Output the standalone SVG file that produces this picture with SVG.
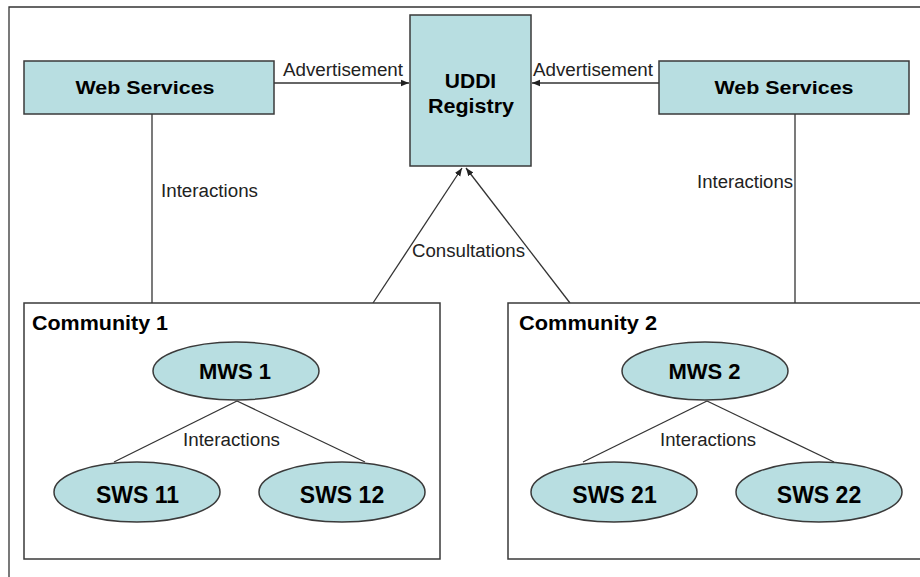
<svg xmlns="http://www.w3.org/2000/svg" width="920" height="577" viewBox="0 0 920 577">
<style>
.box{fill:#b8dee1;stroke:#3a3a3a;stroke-width:1.5}
.cbox{fill:#fff;stroke:#3a3a3a;stroke-width:1.5}
.ln{fill:none;stroke:#333;stroke-width:1.3}
.b{font-family:"Liberation Sans",Arial,sans-serif;font-weight:bold;fill:#000;text-anchor:middle}
.r{font-family:"Liberation Sans",Arial,sans-serif;fill:#222;font-size:18px}
</style>
<defs>
<marker id="ah" viewBox="0 0 10 10" refX="10" refY="5" markerWidth="8" markerHeight="8" markerUnits="userSpaceOnUse" orient="auto">
<path d="M0,1 L10,5 L0,9 z" fill="#222"/>
</marker>
</defs>
<rect width="920" height="577" fill="#fff"/>
<path class="ln" d="M9,577 V7 H920" stroke-width="1.5"/>

<g id="connectors">
<line class="ln" x1="274" y1="83" x2="409" y2="83" marker-end="url(#ah)"/>
<line class="ln" x1="659" y1="83" x2="532" y2="83" marker-end="url(#ah)"/>
<line class="ln" x1="152" y1="114" x2="152" y2="303"/>
<line class="ln" x1="795" y1="114" x2="795" y2="303"/>
<line class="ln" x1="373" y1="303" x2="462" y2="168" marker-end="url(#ah)"/>
<line class="ln" x1="570" y1="303" x2="466" y2="168" marker-end="url(#ah)"/>
<text class="r" x="283" y="76" textLength="120" lengthAdjust="spacingAndGlyphs">Advertisement</text>
<text class="r" x="533" y="76" textLength="120" lengthAdjust="spacingAndGlyphs">Advertisement</text>
<text class="r" x="161" y="197" textLength="97" lengthAdjust="spacingAndGlyphs">Interactions</text>
<text class="r" x="697" y="188" textLength="96" lengthAdjust="spacingAndGlyphs">Interactions</text>
<text class="r" x="412" y="257" textLength="113" lengthAdjust="spacingAndGlyphs">Consultations</text>
</g>

<g id="ws-left">
<rect class="box" x="24" y="61" width="250" height="53"/>
<text class="b" x="145" y="94" font-size="19" textLength="139" lengthAdjust="spacingAndGlyphs">Web Services</text>
</g>
<g id="uddi">
<rect class="box" x="410" y="15" width="121" height="151"/>
<text class="b" x="470.5" y="88" font-size="21">UDDI</text>
<text class="b" x="471" y="113" font-size="21" textLength="86" lengthAdjust="spacingAndGlyphs">Registry</text>
</g>
<g id="ws-right">
<rect class="box" x="659" y="61" width="250" height="53"/>
<text class="b" x="784" y="94" font-size="19" textLength="139" lengthAdjust="spacingAndGlyphs">Web Services</text>
</g>

<g id="community1">
<rect class="cbox" x="24" y="303" width="416" height="256"/>
<text class="b" x="32" y="330" font-size="21" style="text-anchor:start" textLength="136" lengthAdjust="spacingAndGlyphs">Community 1</text>
</g>
<g id="community2">
<rect class="cbox" x="508" y="303" width="420" height="256"/>
<text class="b" x="519" y="330" font-size="21" style="text-anchor:start" textLength="138" lengthAdjust="spacingAndGlyphs">Community 2</text>
</g>
<g id="connectors-inner">
<line class="ln" x1="237" y1="401" x2="114" y2="462"/>
<line class="ln" x1="237" y1="401" x2="365" y2="462"/>
<line class="ln" x1="707" y1="401" x2="583" y2="462"/>
<line class="ln" x1="707" y1="401" x2="834" y2="462"/>
<text class="r" x="183" y="446" textLength="97" lengthAdjust="spacingAndGlyphs">Interactions</text>
<text class="r" x="660" y="446" textLength="96" lengthAdjust="spacingAndGlyphs">Interactions</text>
</g>

<g id="mws1">
<ellipse class="box" cx="236" cy="371" rx="83" ry="29"/>
<text class="b" x="235" y="379" font-size="22">MWS 1</text>
</g>
<g id="sws11">
<ellipse class="box" cx="137" cy="492" rx="83" ry="30"/>
<text class="b" x="137.5" y="503" font-size="23">SWS 11</text>
</g>
<g id="sws12">
<ellipse class="box" cx="342" cy="492" rx="83" ry="30"/>
<text class="b" x="342" y="503" font-size="23">SWS 12</text>
</g>
<g id="mws2">
<ellipse class="box" cx="705" cy="371" rx="83" ry="29"/>
<text class="b" x="704.5" y="379" font-size="22">MWS 2</text>
</g>
<g id="sws21">
<ellipse class="box" cx="614" cy="492" rx="83" ry="30"/>
<text class="b" x="614.5" y="503" font-size="23">SWS 21</text>
</g>
<g id="sws22">
<ellipse class="box" cx="819" cy="492" rx="83" ry="30"/>
<text class="b" x="819" y="503" font-size="23">SWS 22</text>
</g>
</svg>
